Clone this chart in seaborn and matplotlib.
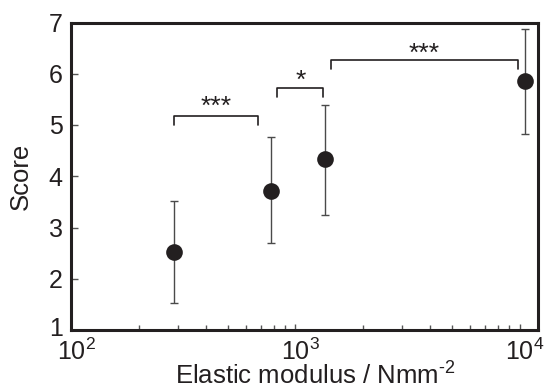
import matplotlib
matplotlib.use("Agg")
import matplotlib.pyplot as plt
import matplotlib.transforms as mtransforms
import seaborn as sns
import pandas as pd
import numpy as np

# data
modulus = [288, 777, 1358, 10550]
score = [2.53, 3.72, 4.33, 5.85]
err_low = [1.53, 2.69, 3.25, 4.83]
err_high = [3.51, 4.76, 5.40, 6.88]

# significance brackets
br_left = [289, 832, 1447]
br_right = [684, 1333, 9806]
br_y = [5.17, 5.72, 6.26]
br_leg = [5.0, 5.55, 6.09]
br_labels = ["***", "*", "***"]
br_text_y = [5.22, 5.72, 6.26]

xticks = [100, 1000, 10000]
xtick_labels = ["$10^2$", "$10^3$", "$10^4$"]
yticks = [1, 2, 3, 4, 5, 6, 7]

sns.set_theme(style="white")
plt.rcParams['font.family'] = ['Liberation Sans', 'DejaVu Sans']
plt.rcParams['mathtext.fontset'] = 'custom'
plt.rcParams['mathtext.rm'] = 'Liberation Sans'
plt.rcParams['mathtext.it'] = 'Liberation Sans'
plt.rcParams['mathtext.bf'] = 'Liberation Sans'

dark = "#231f20"
fig = plt.figure(figsize=(5.51, 3.89), dpi=100)
ax = fig.add_axes([71/551, 1-330/389, (537.7-71)/551, (330-22.5)/389])

df = pd.DataFrame({"modulus": modulus, "score": score})
lo = np.array(score) - np.array(err_low)
hi = np.array(err_high) - np.array(score)
ax.errorbar(modulus, score, yerr=[lo, hi], fmt="none", ecolor="#4a4a4a",
            elinewidth=1.0, capsize=2.6, capthick=1.0, zorder=2)
sns.scatterplot(data=df, x="modulus", y="score", ax=ax, s=12.0**2,
                color=dark, edgecolor=dark, linewidth=0, zorder=3, legend=False)

for xl, xr, yb, yl, lab, yt in zip(br_left, br_right, br_y, br_leg, br_labels, br_text_y):
    ax.plot([xl, xl, xr, xr], [yl, yb, yb, yl], color=dark, lw=1.2, zorder=2)
    xm = np.sqrt(xl * xr)
    ax.text(xm, yt, lab, ha="center", va="baseline", fontsize=19, color=dark)

ax.set_xscale("log")
ax.set_xlim(100, 12040)
ax.set_ylim(1, 7)
ax.set_xticks(xticks)
ax.set_xticklabels(xtick_labels)
ax.set_yticks(yticks)

for s in ["left", "bottom", "top", "right"]:
    ax.spines[s].set_color(dark)
    ax.spines[s].set_linewidth(2.2)

ax.tick_params(axis="both", which="major", direction="in", width=1,
               color="#555555", labelsize=18, labelcolor=dark, pad=6)
ax.tick_params(axis="x", which="major", length=4, bottom=True)
ax.tick_params(axis="x", which="minor", direction="in", length=3.8, width=1,
               color="#555555", bottom=True)
ax.tick_params(axis="y", which="major", length=5, left=True)

# x tick labels: center the base "10" on the tick
offset = mtransforms.ScaledTranslation(5/100, 0, fig.dpi_scale_trans)
for lbl in ax.get_xticklabels():
    lbl.set_transform(lbl.get_transform() + offset)
# lowest y tick label sits slightly above the corner
up = mtransforms.ScaledTranslation(0, 3/100, fig.dpi_scale_trans)
ylbls = ax.get_yticklabels()
ylbls[0].set_transform(ylbls[0].get_transform() + up)

ax.set_xlabel("Elastic modulus / Nmm$^{\u2010 2}$", fontsize=18.5, color=dark)
ax.xaxis.set_label_coords(0.523, -0.105)
ax.set_ylabel("Score", fontsize=18.5, color=dark)
ax.yaxis.set_label_coords(-0.082, 0.5)
ax.grid(False)

fig.savefig("out.png", dpi=100)
